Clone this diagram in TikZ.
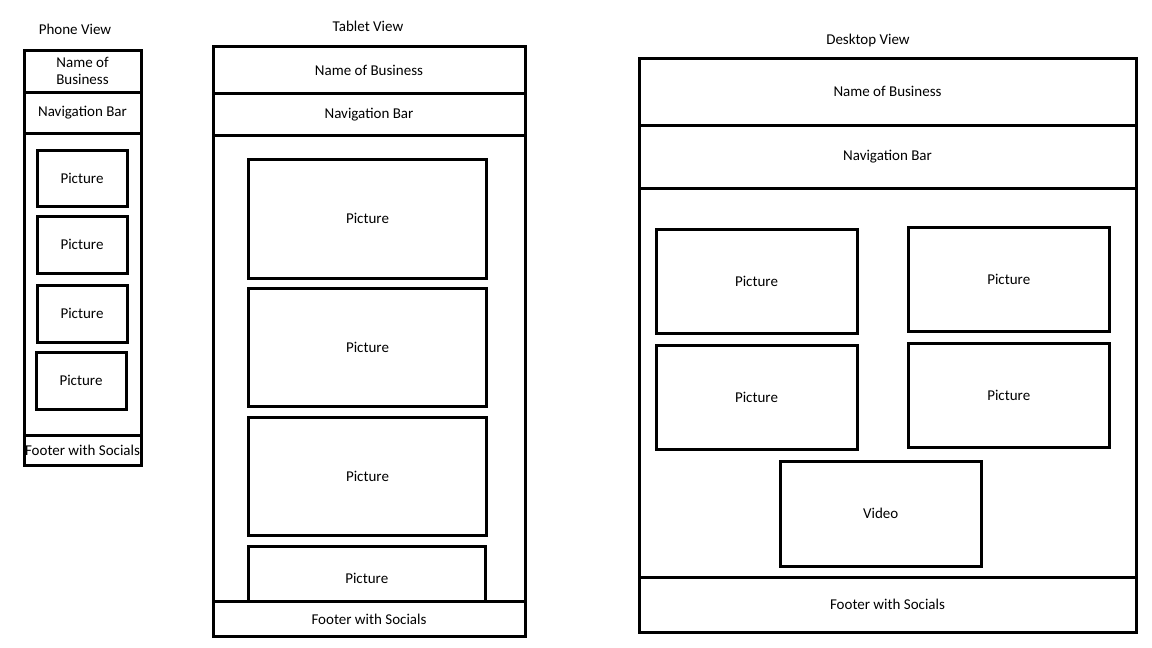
\documentclass[tikz,border=0pt]{standalone}
\usepackage{fontspec}
\setmainfont{Carlito}
\usepackage{tikz}
\usetikzlibrary{positioning}

\tikzset{
  pane/.style={draw, line width=3pt, inner sep=0pt, fill=white,
    font=\fontsize{15}{17}\selectfont, align=center},
  viewtitle/.style={font=\fontsize{15}{17}\selectfont}
}

\begin{document}
\begin{tikzpicture}[x=1pt, y=-1pt]
    \useasboundingbox (0,0) rectangle (1152,648);

    % Phone
    \node[viewtitle] (phtitle) at (75,29) {Phone View};
    \node[pane, minimum width=117, minimum height=42] (phname) at (82.5,71) {Name of\\Business};
    \node[pane, minimum width=117, minimum height=41] (phnav) at (82.5,112.5) {Navigation Bar};
    \node[pane, minimum width=117, minimum height=302] (phbody) at (82.5,284) {};
    \node[pane, minimum width=90, minimum height=56] (phpicA) at (82,178) {Picture};
    \node[pane, minimum width=90, minimum height=57] (phpicB) at (82,244.5) {Picture};
    \node[pane, minimum width=90, minimum height=57] (phpicC) at (82,313.5) {Picture};
    \node[pane, minimum width=90, minimum height=57] (phpicD) at (81,380.5) {Picture};
    \node[pane, minimum width=117, minimum height=30] (phfoot) at (82.5,450) {Footer with Socials};

    % Tablet
    \node[viewtitle] (tbtitle) at (368,26) {Tablet View};
    \node[pane, minimum width=312, minimum height=46.5] (tbname) at (369,70) {Name of Business};
    \node[pane, minimum width=312, minimum height=42] (tbnav) at (369,114.5) {Navigation Bar};
    \node[pane, minimum width=312, minimum height=466.5] (tbbody) at (369,369) {};
    \node[pane, minimum width=237.5, minimum height=119] (tbpicA) at (367.5,218.5) {Picture};
    \node[pane, minimum width=237.5, minimum height=118] (tbpicB) at (367.5,347) {Picture};
    \node[pane, minimum width=237.5, minimum height=118] (tbpicC) at (367.5,476) {Picture};
    \node[pane, minimum width=237.5, minimum height=64] (tbpicD) at (366.75,578) {Picture}; % cut by footer
    \node[pane, minimum width=312, minimum height=34.5] (tbfoot) at (369,619) {Footer with Socials};

    % Desktop
    \node[viewtitle] (dktitle) at (868,40) {Desktop View};
    \node[pane, minimum width=497, minimum height=67] (dkname) at (887.5,91.5) {Name of Business};
    \node[pane, minimum width=497, minimum height=63] (dknav) at (887.5,156.5) {Navigation Bar};
    \node[pane, minimum width=497, minimum height=389] (dkbody) at (887.5,382.5) {};
    \node[pane, minimum width=201, minimum height=104] (dkpicA) at (756.5,281) {Picture};
    \node[pane, minimum width=200.5, minimum height=104] (dkpicB) at (1008.75,279) {Picture};
    \node[pane, minimum width=201, minimum height=104] (dkpicC) at (756.5,397) {Picture};
    \node[pane, minimum width=200.5, minimum height=104] (dkpicD) at (1008.75,395) {Picture};
    \node[pane, minimum width=201.5, minimum height=105] (dkvideo) at (880.75,513.5) {Video};
    \node[pane, minimum width=497, minimum height=55] (dkfoot) at (887.5,604.5) {Footer with Socials};
\end{tikzpicture}
\end{document}
